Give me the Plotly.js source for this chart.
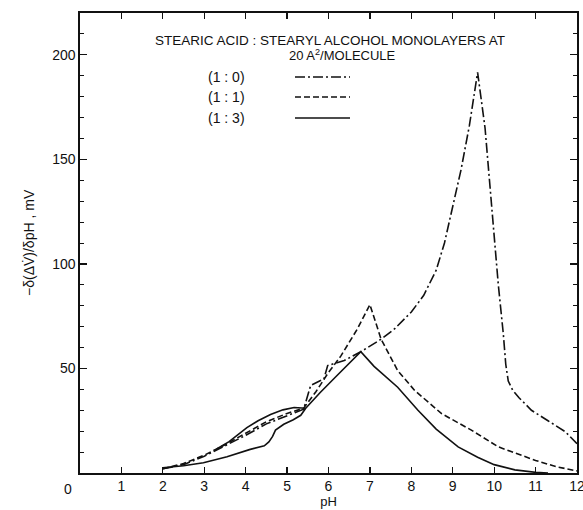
<!DOCTYPE html>
<html>
<head>
<meta charset="utf-8">
<script src="https://cdn.plot.ly/plotly-3.0.1.min.js"></script>
<style>html,body{margin:0;padding:0;background:#fff;}#chart{width:583px;height:510px;}</style>
</head>
<body>
<div id="chart"></div>
<script>
// (1:0) stearic acid : stearyl alcohol, dash-dot
const ph10 = [2, 2.5, 3, 3.5, 4, 4.5, 5, 5.4, 5.57, 5.89, 5.98, 6.38, 6.78, 7.27, 7.6, 8.0, 8.3, 8.6, 8.8, 9.0, 9.2, 9.4, 9.6, 9.78, 9.94, 10.1, 10.22, 10.28, 10.34, 10.45, 10.6, 10.9, 11.3, 11.72, 12];
const val10 = [2, 4, 8, 13, 18, 23.5, 27.5, 30.5, 41.9, 45, 51.4, 53.8, 58, 64, 69, 77, 85, 97, 110, 127, 145, 166, 191.6, 165, 127, 90, 66.7, 52, 44, 39.5, 36, 30, 25, 19.7, 14];
// (1:1) dashed
const ph11 = [2, 2.5, 3, 3.5, 4, 4.5, 5, 5.4, 5.7, 5.98, 6.3, 6.7, 7.0, 7.27, 7.67, 8.08, 8.73, 9.45, 10.1, 10.5, 11, 11.5, 12];
const val11 = [2, 4.5, 8.5, 13.5, 19, 24.5, 28.5, 31, 39, 47.5, 56, 69, 80.5, 64, 49, 39.5, 28.4, 20.5, 12.5, 9.5, 6, 3, 1];
// (1:3) solid, main branch
const ph13 = [2, 2.5, 2.98, 3.55, 4.11, 4.32, 4.45, 4.56, 4.65, 4.72, 4.92, 5.15, 5.33, 5.45, 5.8, 6.2, 6.5, 6.78, 7.1, 7.67, 8.16, 8.6, 9.13, 9.6, 10, 10.5, 11, 11.3];
const val13 = [2.5, 3.5, 4.9, 7.8, 11.3, 12.5, 13, 14.9, 17.5, 20.5, 23.3, 25.5, 27.6, 31, 38.5, 46.5, 52.5, 58, 51, 41, 30, 21, 12.5, 7.5, 4, 1.5, 0.3, 0];
// (1:3) solid, upper arc
const ph13b = [3.3, 3.6, 4.03, 4.3, 4.6, 4.9, 5.17, 5.45];
const val13b = [11.5, 15, 21.7, 25, 28, 30.2, 31.3, 31];

const xTicks = [1,2,3,4,5,6,7,8,9,10,11,12];
const yTicks = [50,100,150,200];
const legendLabels = ['(1 : 0)', '(1 : 1)', '(1 : 3)'];
const dashes = ['10px,3px,2px,3px', '6px,3px', 'solid'];

const FONT = 'Liberation Sans, Arial, sans-serif';
const lineStyle = (d) => ({color: '#111', width: 1.6, dash: d});

const traces = [
  {x: ph10, y: val10, mode: 'lines', line: lineStyle(dashes[0]), showlegend: false},
  {x: ph11, y: val11, mode: 'lines', line: lineStyle(dashes[1]), showlegend: false},
  {x: ph13, y: val13, mode: 'lines', line: lineStyle(dashes[2]), showlegend: false},
  {x: ph13b, y: val13b, mode: 'lines', line: lineStyle(dashes[2]), showlegend: false}
];

const plotL = 80, plotR = 577, plotT = 13, plotB = 473;
const px2paperX = (px) => (px - plotL) / (plotR - plotL);
const py2paperY = (py) => (plotB - py) / (plotB - plotT);
const txt = (text, px, py, size, extra) => Object.assign({text: text, xref: 'paper', yref: 'paper',
  x: px2paperX(px), y: py2paperY(py), xanchor: 'center', yanchor: 'middle', showarrow: false,
  font: {family: FONT, size: size, color: '#111'}}, extra || {});

const rowsY = [77, 97, 118];
const annotations = [
  txt('STEARIC ACID : STEARYL ALCOHOL MONOLAYERS AT', 330, 40, 13.5),
  txt('20 A<sup>2</sup>/MOLECULE', 342, 55, 13),
  txt('−δ(ΔV̇)/δpH , mV', 29, 243, 14, {textangle: -90}),
  txt('0', 68, 489, 14)
];
const shapes = [];
legendLabels.forEach((lab, i) => {
  annotations.push(txt(lab, 226, rowsY[i], 14));
  shapes.push({type: 'line', xref: 'paper', yref: 'paper', x0: px2paperX(295), x1: px2paperX(350),
    y0: py2paperY(rowsY[i]), y1: py2paperY(rowsY[i]), line: {color: '#111', width: 1.6, dash: dashes[i]}});
});

const layout = {
  width: 583, height: 510,
  margin: {l: plotL, r: 583 - plotR, t: plotT, b: 510 - plotB},
  paper_bgcolor: '#fff', plot_bgcolor: '#fff',
  showlegend: false,
  font: {family: FONT, size: 14, color: '#111'},
  xaxis: {range: [0, 12], tickvals: xTicks, ticks: 'inside', ticklen: 6, tickwidth: 1.2, tickcolor: '#111',
    showline: true, linewidth: 1.6, linecolor: '#111', mirror: 'ticks', showgrid: false, zeroline: false,
    ticklabeloverflow: 'allow',
    tickfont: {family: FONT, size: 14, color: '#111'},
    title: {text: 'pH', font: {family: FONT, size: 13, color: '#111'}, standoff: 2}},
  yaxis: {range: [0, 220], tickvals: yTicks, ticks: 'inside', ticklen: 7, tickwidth: 1.2, tickcolor: '#111',
    showline: true, linewidth: 1.6, linecolor: '#111', mirror: 'ticks', showgrid: false, zeroline: false,
    tickfont: {family: FONT, size: 14, color: '#111'},
    minor: {dtick: 10, ticks: 'inside', ticklen: 4, tickwidth: 1, tickcolor: '#111', showgrid: false}},
  annotations: annotations,
  shapes: shapes
};

Plotly.newPlot('chart', traces, layout, {displayModeBar: false, staticPlot: true});
</script>
</body>
</html>
